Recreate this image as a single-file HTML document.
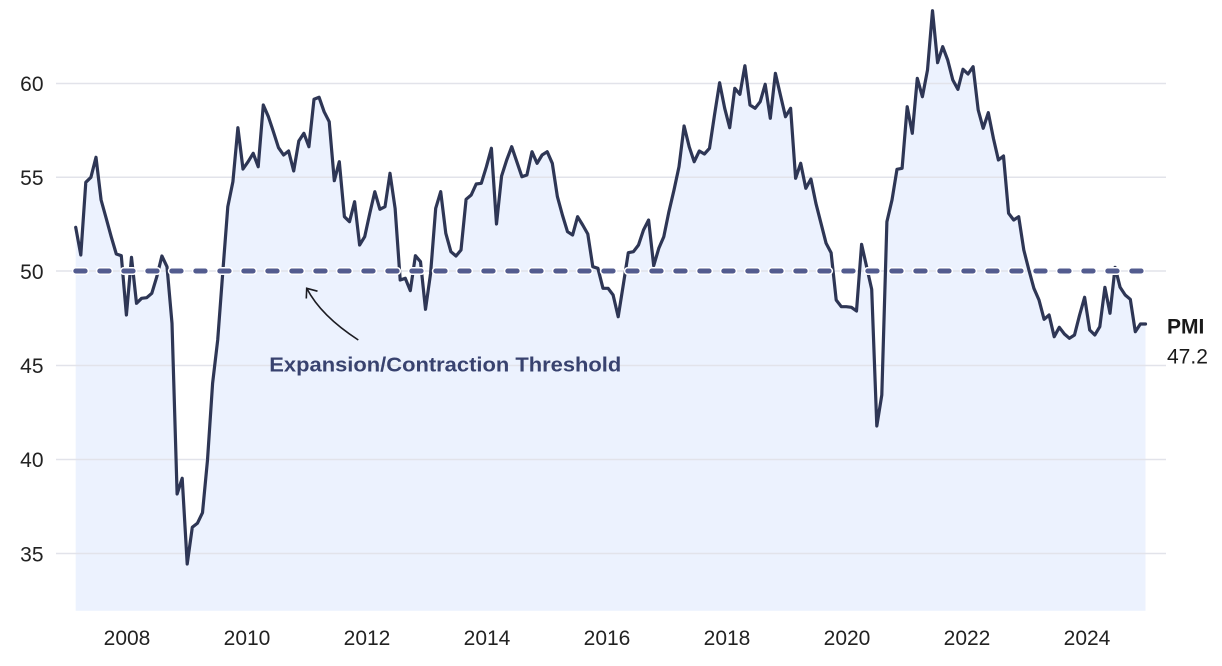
<!DOCTYPE html>
<html>
<head>
<meta charset="utf-8">
<style>
  html, body { margin: 0; padding: 0; background: #ffffff; }
  svg { display: block; }
  text { font-family: "Liberation Sans", sans-serif; }
</style>
</head>
<body>
<svg width="1222" height="666" viewBox="0 0 1222 666" xmlns="http://www.w3.org/2000/svg">
  <!-- area fill -->
  <polygon fill="#ecf2fe" points="75.7,227.3 80.8,255 85.8,182.3 90.9,177.3 96.0,157.3 101.1,200 106.1,218 111.2,236.7 116.3,254 121.3,255.7 126.4,315 131.5,257.3 136.5,303.3 141.6,298.3 146.7,297.7 151.8,293.3 156.8,276.7 161.9,256 167.0,266.7 172.0,323.3 177.1,494 182.2,478.3 187.2,564 192.3,527.3 197.4,523.3 202.5,512.7 207.5,460 212.6,383.3 217.7,340 222.7,273.3 227.8,206.7 232.9,181.7 237.9,127.7 243.0,169 248.1,161.7 253.2,153.3 258.2,166.7 263.3,105 268.4,116.7 273.4,131.7 278.5,147.7 283.6,155 288.6,151 293.7,171 298.8,141 303.9,133.3 308.9,146.7 314.0,99.3 319.1,97.3 324.1,111.7 329.2,121.7 334.3,180.7 339.3,161.7 344.4,216.7 349.5,221.7 354.6,201.7 359.6,245 364.7,236.7 369.8,213.3 374.8,191.7 379.9,209.3 385.0,206.7 390.0,173.3 395.1,208.3 400.2,280 405.3,278.3 410.3,290.7 415.4,255.7 420.5,261.7 425.5,309.3 430.6,273.3 435.7,208.3 440.7,191.7 445.8,233.3 450.9,251.7 456.0,256 461.0,250 466.1,199.3 471.2,195 476.2,184 481.3,183.3 486.4,166.7 491.4,148.3 496.5,224 501.6,176 506.7,160 511.7,146.7 516.8,161.7 521.9,176.7 526.9,175 532.0,151.7 537.1,163.3 542.1,155 547.2,151.7 552.3,163.3 557.4,196.7 562.4,215 567.5,231.7 572.6,235 577.6,216.7 582.7,225 587.8,234 592.8,266.7 597.9,268.3 603.0,288.3 608.1,288.3 613.1,295 618.2,316.7 623.3,284.7 628.3,252.7 633.4,251.7 638.5,245 643.5,230 648.6,220 653.7,265.7 658.8,248.3 663.8,236.7 668.9,211.7 674.0,190 679.0,166.7 684.1,126 689.2,146.7 694.2,161.7 699.3,151 704.4,154 709.5,148.3 714.5,115 719.6,82.7 724.7,108.3 729.7,127.7 734.8,88.3 739.9,94.3 744.9,65.7 750.0,105 755.1,108.3 760.2,101.7 765.2,84.3 770.3,118.3 775.4,73.3 780.4,95 785.5,116.7 790.6,108.3 795.6,178.3 800.7,163.3 805.8,188.3 810.9,179 815.9,203.3 821.0,223.3 826.1,243.3 831.1,252.7 836.2,300 841.3,306.7 846.3,306.7 851.4,307.3 856.5,311 861.6,244.3 866.6,266.7 871.7,289.3 876.8,426 881.8,395 886.9,221.7 892.0,200 897.0,169.3 902.1,168.3 907.2,106.7 912.3,133.3 917.3,78.3 922.4,96.7 927.5,70 932.5,10.7 937.6,62.7 942.7,46.7 947.7,60 952.8,80 957.9,89.3 963.0,69.3 968.0,74 973.1,66.7 978.2,110 983.2,128.3 988.3,112.7 993.4,138.3 998.4,160 1003.5,156 1008.6,213.3 1013.7,220 1018.7,216.7 1023.8,250 1028.9,270 1033.9,288.3 1039.0,300 1044.1,319.3 1049.1,315 1054.2,336.7 1059.3,327.3 1064.4,334 1069.4,338.3 1074.5,335 1079.6,315 1084.6,297.3 1089.7,330 1094.8,335 1099.8,326.7 1104.9,287.3 1110.0,313.3 1115.1,267.3 1120.1,287.3 1125.2,295 1130.3,299.3 1135.3,331.7 1140.4,324 1145.5,324 1145.5,610.7 75.7,610.7"/>

  <!-- gridlines -->
  <g stroke="#e2e3ea" stroke-width="1.5">
    <line x1="56" y1="83.5" x2="1166" y2="83.5"/>
    <line x1="56" y1="177.3" x2="1166" y2="177.3"/>
    <line x1="56" y1="271" x2="1166" y2="271"/>
    <line x1="56" y1="365.5" x2="1166" y2="365.5"/>
    <line x1="56" y1="459.5" x2="1166" y2="459.5"/>
    <line x1="56" y1="553.5" x2="1166" y2="553.5"/>
  </g>

  <!-- y labels -->
  <g font-size="21" fill="#222222" text-anchor="end">
    <text x="43.5" y="91">60</text>
    <text x="43.5" y="185">55</text>
    <text x="43.5" y="279">50</text>
    <text x="43.5" y="373">45</text>
    <text x="43.5" y="467">40</text>
    <text x="43.5" y="561.5">35</text>
  </g>

  <!-- x labels -->
  <g font-size="21" fill="#222222" text-anchor="middle">
    <text x="127" y="645">2008</text>
    <text x="247" y="645">2010</text>
    <text x="367" y="645">2012</text>
    <text x="487" y="645">2014</text>
    <text x="607" y="645">2016</text>
    <text x="727" y="645">2018</text>
    <text x="847" y="645">2020</text>
    <text x="967" y="645">2022</text>
    <text x="1087" y="645">2024</text>
  </g>

  <!-- data line -->
  <polyline fill="none" stroke="#2e3655" stroke-width="3.2" stroke-linejoin="round" stroke-linecap="round" points="75.7,227.3 80.8,255 85.8,182.3 90.9,177.3 96.0,157.3 101.1,200 106.1,218 111.2,236.7 116.3,254 121.3,255.7 126.4,315 131.5,257.3 136.5,303.3 141.6,298.3 146.7,297.7 151.8,293.3 156.8,276.7 161.9,256 167.0,266.7 172.0,323.3 177.1,494 182.2,478.3 187.2,564 192.3,527.3 197.4,523.3 202.5,512.7 207.5,460 212.6,383.3 217.7,340 222.7,273.3 227.8,206.7 232.9,181.7 237.9,127.7 243.0,169 248.1,161.7 253.2,153.3 258.2,166.7 263.3,105 268.4,116.7 273.4,131.7 278.5,147.7 283.6,155 288.6,151 293.7,171 298.8,141 303.9,133.3 308.9,146.7 314.0,99.3 319.1,97.3 324.1,111.7 329.2,121.7 334.3,180.7 339.3,161.7 344.4,216.7 349.5,221.7 354.6,201.7 359.6,245 364.7,236.7 369.8,213.3 374.8,191.7 379.9,209.3 385.0,206.7 390.0,173.3 395.1,208.3 400.2,280 405.3,278.3 410.3,290.7 415.4,255.7 420.5,261.7 425.5,309.3 430.6,273.3 435.7,208.3 440.7,191.7 445.8,233.3 450.9,251.7 456.0,256 461.0,250 466.1,199.3 471.2,195 476.2,184 481.3,183.3 486.4,166.7 491.4,148.3 496.5,224 501.6,176 506.7,160 511.7,146.7 516.8,161.7 521.9,176.7 526.9,175 532.0,151.7 537.1,163.3 542.1,155 547.2,151.7 552.3,163.3 557.4,196.7 562.4,215 567.5,231.7 572.6,235 577.6,216.7 582.7,225 587.8,234 592.8,266.7 597.9,268.3 603.0,288.3 608.1,288.3 613.1,295 618.2,316.7 623.3,284.7 628.3,252.7 633.4,251.7 638.5,245 643.5,230 648.6,220 653.7,265.7 658.8,248.3 663.8,236.7 668.9,211.7 674.0,190 679.0,166.7 684.1,126 689.2,146.7 694.2,161.7 699.3,151 704.4,154 709.5,148.3 714.5,115 719.6,82.7 724.7,108.3 729.7,127.7 734.8,88.3 739.9,94.3 744.9,65.7 750.0,105 755.1,108.3 760.2,101.7 765.2,84.3 770.3,118.3 775.4,73.3 780.4,95 785.5,116.7 790.6,108.3 795.6,178.3 800.7,163.3 805.8,188.3 810.9,179 815.9,203.3 821.0,223.3 826.1,243.3 831.1,252.7 836.2,300 841.3,306.7 846.3,306.7 851.4,307.3 856.5,311 861.6,244.3 866.6,266.7 871.7,289.3 876.8,426 881.8,395 886.9,221.7 892.0,200 897.0,169.3 902.1,168.3 907.2,106.7 912.3,133.3 917.3,78.3 922.4,96.7 927.5,70 932.5,10.7 937.6,62.7 942.7,46.7 947.7,60 952.8,80 957.9,89.3 963.0,69.3 968.0,74 973.1,66.7 978.2,110 983.2,128.3 988.3,112.7 993.4,138.3 998.4,160 1003.5,156 1008.6,213.3 1013.7,220 1018.7,216.7 1023.8,250 1028.9,270 1033.9,288.3 1039.0,300 1044.1,319.3 1049.1,315 1054.2,336.7 1059.3,327.3 1064.4,334 1069.4,338.3 1074.5,335 1079.6,315 1084.6,297.3 1089.7,330 1094.8,335 1099.8,326.7 1104.9,287.3 1110.0,313.3 1115.1,267.3 1120.1,287.3 1125.2,295 1130.3,299.3 1135.3,331.7 1140.4,324 1145.5,324"/>

  <!-- threshold dashed line with white halo -->
  <line x1="75.8" y1="271" x2="1146" y2="271" stroke="#ffffff" stroke-width="8" stroke-linecap="round" stroke-dasharray="9.3 14.7"/>
  <line x1="75.8" y1="271" x2="1146" y2="271" stroke="#535c8f" stroke-width="5" stroke-linecap="round" stroke-dasharray="9.3 14.7"/>

  <!-- annotation arrow -->
  <path d="M358.3,340 Q320.9,315.8 306.7,288.3" fill="none" stroke="#1c1c22" stroke-width="1.6"/>
  <path d="M306.3,298.5 L306.7,288.3 L317.5,291.2" fill="none" stroke="#1c1c22" stroke-width="1.6" stroke-linejoin="miter"/>

  <!-- annotation text -->
  <text x="269.3" y="371.5" font-size="20.5" font-weight="bold" fill="#38426f" textLength="352" lengthAdjust="spacingAndGlyphs">Expansion/Contraction Threshold</text>

  <!-- end label -->
  <text x="1167" y="333.3" font-size="21" font-weight="bold" fill="#1a1a1a">PMI</text>
  <text x="1167" y="363.3" font-size="21" fill="#1a1a1a">47.2</text>
</svg>
</body>
</html>
